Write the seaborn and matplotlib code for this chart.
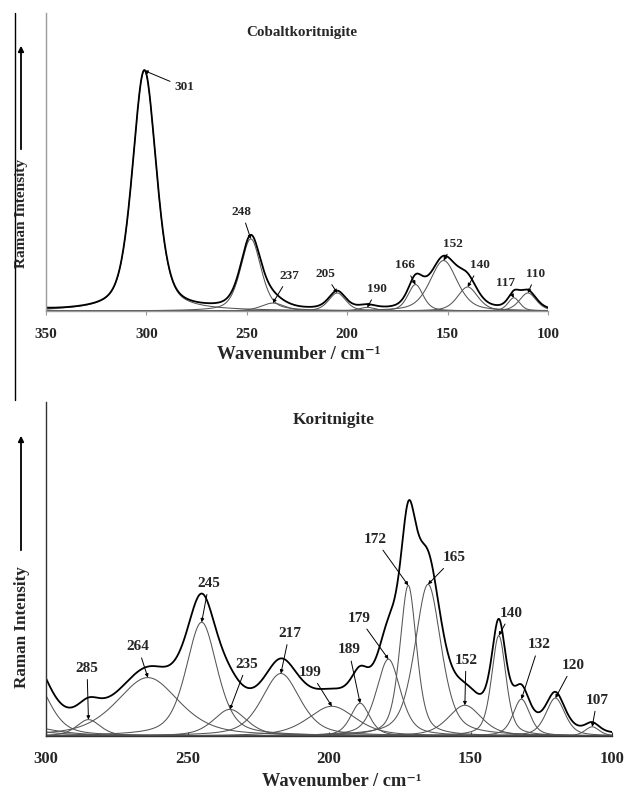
import numpy as np
import pandas as pd
import seaborn as sns
import matplotlib.pyplot as plt
from matplotlib.lines import Line2D
from matplotlib.patches import FancyArrowPatch

# ---- band fit of Cobaltkoritnigite: centre (cm-1), height (a.u.), FWHM (cm-1)
co_centres = [362, 301, 248, 237, 205, 190, 166, 152, 140, 117, 110]
co_heights = [0.06, 1.00, 0.30, 0.033, 0.075, 0.015, 0.11, 0.21, 0.10, 0.055, 0.075]
co_fwhm = [10, 14, 12, 14, 10, 10, 9, 16, 12, 7, 10]
co_labels = ['', '301', '248', '237', '205', '190', '166', '152', '140', '117', '110']

# ---- band fit of Koritnigite
ko_centres = [305, 315, 322, 285, 264, 245, 235, 217, 199, 189, 179, 172, 165, 152, 140, 132, 120, 107]
ko_heights = [0.58, 0.14, 0.10, 0.16, 0.57, 1.11, 0.26, 0.61, 0.29, 0.32, 0.75, 1.47, 1.48, 0.30, 0.98, 0.36, 0.37, 0.09]
ko_fwhm = [14, 30, 36, 10, 26, 13, 14, 16, 20, 8, 10, 7, 11, 14, 6, 7, 8, 6]
ko_labels = ['', '', '', '285', '264', '245', '235', '217', '199', '189', '179', '172', '165', '152', '140', '132', '120', '107']

# label text positions (wavenumber, intensity) - layout only
co_text = {'301': (281, 0.93), '248': (252.4, 0.41), '237': (229, 0.145), '205': (211, 0.153),
           '190': (185, 0.09), '166': (171.2, 0.19), '152': (147.3, 0.28), '140': (134, 0.19),
           '117': (121, 0.115), '110': (106, 0.153)}
ko_text = {'285': (285.5, 0.66), '264': (267.5, 0.87), '245': (242.4, 1.49), '235': (229, 0.70),
           '217': (214, 1.00), '199': (206.5, 0.62), '189': (193, 0.84), '179': (189.4, 1.15),
           '172': (183.7, 1.92), '165': (155.8, 1.74), '152': (151.6, 0.74), '140': (135.7, 1.20),
           '132': (125.8, 0.89), '120': (113.8, 0.69), '107': (105.3, 0.35)}


def pvoigt(x, c, h, w, eta):
    g = np.exp(-4 * np.log(2) * ((x - c) / w) ** 2)
    l = 1.0 / (1.0 + 4 * ((x - c) / w) ** 2)
    return h * (eta * l + (1 - eta) * g)


def band_frame(centres, heights, fwhm, lo, hi, eta):
    x = np.linspace(hi, lo, 1200)
    rows = []
    for i, (c, h, w) in enumerate(zip(centres, heights, fwhm)):
        rows.append(pd.DataFrame({'wn': x, 'I': pvoigt(x, c, h, w, eta), 'band': i}))
    df = pd.concat(rows)
    env = df.groupby('wn', sort=False)['I'].sum().reset_index()
    return df, env


sns.set_style('white')
plt.rcParams['font.family'] = ['Liberation Serif', 'DejaVu Serif']

fig = plt.figure(figsize=(6.24, 7.94), dpi=100)
W, H = 624, 794
ax1 = fig.add_axes([46 / W, 1 - 311 / H, 502 / W, 298 / H])
ax2 = fig.add_axes([46 / W, 1 - 736 / H, 566 / W, 334 / H])

panels = [
    (ax1, co_centres, co_heights, co_fwhm, co_labels, co_text, 100, 350, 0.45, 298 / 241,
     'Cobaltkoritnigite', (0.51, 0.936), 10.8, 9.5, 11, '#9a9a9a', 'out', 9, 13.6, (0.503, -0.118)),
    (ax2, ko_centres, ko_heights, ko_fwhm, ko_labels, ko_text, 100, 300, 0.5, 334 / 236,
     'Koritnigite', (0.509, 0.946), 12.5, 11, 12, '#333333', 'in', 11, 13.2, (0.523, -0.112)),
]

for (ax, cen, hts, fw, labs, txt, lo, hi, eta, yscale, title, tpos, tfs, lfs, kfs,
     spcol, tdir, tpad, xfs, xlc) in panels:
    df, env = band_frame(cen, hts, fw, lo, hi, eta)
    sns.lineplot(data=df, x='wn', y='I', units='band', estimator=None, sort=False,
                 color='#555555', lw=0.75, ax=ax, legend=False)
    sns.lineplot(data=env, x='wn', y='I', sort=False, color='black', lw=1.3, ax=ax)
    ax.set_xlim(hi, lo)
    ax.set_ylim(0, env['I'].max() * yscale)
    ax.set_yticks([])
    ax.set_xticks(np.arange(hi, lo - 1, -50))
    ax.tick_params(axis='x', direction=tdir, length=3, width=0.8, color=spcol,
                   labelsize=kfs, pad=tpad, bottom=True)
    for t in ax.get_xticklabels():
        t.set_fontweight('bold')
    sns.despine(ax=ax)
    for s in ('left', 'bottom'):
        ax.spines[s].set_color(spcol)
        ax.spines[s].set_linewidth(1.0)
    ax.set_ylabel('')
    ax.set_xlabel('Wavenumber / cm\u207b\u00b9', fontsize=xfs, fontweight='bold')
    ax.xaxis.set_label_coords(*xlc)
    ax.text(tpos[0], tpos[1], title, transform=ax.transAxes, ha='center', va='center',
            fontsize=tfs, fontweight='bold')
    for c, h, lab in zip(cen, hts, labs):
        if not lab:
            continue
        ax.annotate(lab, xy=(c, h), xytext=txt[lab], ha='center', va='center',
                    fontsize=lfs, fontweight='bold',
                    arrowprops=dict(arrowstyle='-|>', color='black', lw=0.7,
                                    mutation_scale=5, shrinkA=1, shrinkB=0))

# y-axis captions with upward arrows
for (ytip, ybot, ytxt, fs) in [(43, 152, 213, 11), (433, 553, 627, 12.3)]:
    fig.add_artist(FancyArrowPatch(
        (21 / W, 1 - ybot / H), (21 / W, 1 - ytip / H), transform=fig.transFigure,
        arrowstyle='-|>', mutation_scale=8, lw=1.3, color='black'))
    fig.text(22 / W, 1 - ytxt / H, 'Raman Intensity', rotation=90, ha='center', va='center',
             fontsize=fs, fontweight='bold')

# frame line on the left of the upper panel
fig.add_artist(Line2D([14.5 / W, 14.5 / W], [1 - 13 / H, 1 - 400 / H],
                      transform=fig.transFigure, color='black', lw=1.0))

fig.savefig('out.png', dpi=100)
